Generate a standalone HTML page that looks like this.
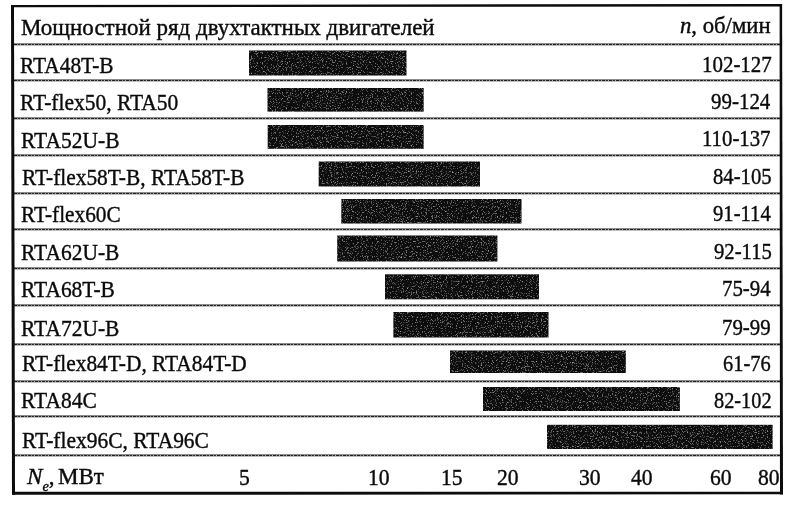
<!DOCTYPE html><html><head><meta charset="utf-8"><style>
html,body{margin:0;padding:0;background:#fff;}
body{width:790px;height:506px;position:relative;overflow:hidden;font-family:"Liberation Serif",serif;color:#0a0a0a;}
.b{position:absolute;background:#111;}
.l{position:absolute;height:1px;background:repeating-linear-gradient(90deg,#1e1e1e 0 3px,#8a8a8a 3px 4px,#2a2a2a 4px 6px,#aaa 6px 7px);box-shadow:0 -1px 0 rgba(0,0,0,0.45),0 1px 0 rgba(0,0,0,0.25);}
.bar{position:absolute;background:#1e1e1e;}
.t{position:absolute;white-space:nowrap;line-height:1;transform-origin:0 0;-webkit-text-stroke:0.4px #0a0a0a;}
.sub{font-size:15px;position:relative;top:7px;margin-left:0px;}
</style></head><body>
<svg width="790" height="506" style="position:absolute;left:0;top:0" viewBox="0 0 790 506"><g fill="#0c0c0c"><polygon points="11,5 782,4 782,6.6 11,7.2"/><polygon points="779.6,4 782.1,4 783,494.4 780,494.4"/><polygon points="12,491.8 783,491.8 783,494.3 12,494.8"/><polygon points="11,5 14,5 15,494.8 12,494.8"/></g></svg>
<div class="l" style="left:14px;top:43.9px;width:766px"></div>
<div class="l" style="left:14px;top:80.3px;width:766px"></div>
<div class="l" style="left:14px;top:117.7px;width:766px"></div>
<div class="l" style="left:14px;top:154.9px;width:766px"></div>
<div class="l" style="left:14px;top:192.7px;width:766px"></div>
<div class="l" style="left:14px;top:229.4px;width:766px"></div>
<div class="l" style="left:14px;top:267.5px;width:766px"></div>
<div class="l" style="left:14px;top:305.4px;width:766px"></div>
<div class="l" style="left:14px;top:343.7px;width:766px"></div>
<div class="l" style="left:14px;top:380.8px;width:766px"></div>
<div class="l" style="left:14px;top:416.3px;width:766px"></div>
<div class="l" style="left:14px;top:455.0px;width:766px"></div>
<svg width="790" height="506" style="position:absolute;left:0;top:0" viewBox="0 0 790 506"><defs><filter id="sp" x="0" y="0" width="100%" height="100%"><feTurbulence type="fractalNoise" baseFrequency="0.8" numOctaves="3" seed="7" result="n"/><feColorMatrix in="n" type="matrix" values="0 0 0 0 0.6  0 0 0 0 0.6  0 0 0 0 0.6  1.9 0 0 0 -1.1" result="dots"/><feComposite in="dots" in2="SourceGraphic" operator="in" result="d2"/><feMerge><feMergeNode in="SourceGraphic"/><feMergeNode in="d2"/></feMerge></filter></defs><g fill="#0a0a0a" filter="url(#sp)"><rect x="249.0" y="50.5" width="157.5" height="25.0"/><rect x="267.5" y="88.0" width="156.2" height="23.6"/><rect x="267.7" y="125.0" width="156.0" height="23.8"/><rect x="318.7" y="161.5" width="161.3" height="25.0"/><rect x="341.3" y="199.0" width="180.2" height="24.5"/><rect x="337.2" y="235.5" width="160.2" height="26.0"/><rect x="385.0" y="274.3" width="154.0" height="25.0"/><rect x="393.4" y="312.0" width="155.1" height="25.5"/><rect x="450.0" y="350.5" width="175.8" height="22.5"/><rect x="483.0" y="387.0" width="196.9" height="24.0"/><rect x="547.0" y="424.8" width="225.6" height="24.2"/></g></svg>
<div class="t" style="left:21.20px;top:15.94px;font-size:23px;transform:scaleX(0.9992)">Мощностной ряд двухтактных двигателей</div>
<div class="t" style="left:680.20px;top:14.24px;font-size:23px;transform:scaleX(0.9873)"><i>n</i>, об/мин</div>
<div class="t" style="left:19.70px;top:52.60px;font-size:24px;transform:scaleX(0.8899)">RTA48T-B</div>
<div class="t" style="left:702.36px;top:51.50px;font-size:24px;transform:scaleX(0.8721)">102-127</div>
<div class="t" style="left:19.70px;top:89.50px;font-size:24px;transform:scaleX(0.8944)">RT-flex50, RTA50</div>
<div class="t" style="left:710.92px;top:89.30px;font-size:24px;transform:scaleX(0.8728)">99-124</div>
<div class="t" style="left:20.70px;top:127.50px;font-size:24px;transform:scaleX(0.8967)">RTA52U-B</div>
<div class="t" style="left:701.86px;top:125.60px;font-size:24px;transform:scaleX(0.8659)">110-137</div>
<div class="t" style="left:21.70px;top:164.90px;font-size:24px;transform:scaleX(0.8904)">RT-flex58T-B, RTA58T-B</div>
<div class="t" style="left:712.96px;top:163.90px;font-size:24px;transform:scaleX(0.8610)">84-105</div>
<div class="t" style="left:20.70px;top:201.50px;font-size:24px;transform:scaleX(0.8869)">RT-flex60C</div>
<div class="t" style="left:712.96px;top:200.60px;font-size:24px;transform:scaleX(0.8607)">91-114</div>
<div class="t" style="left:20.90px;top:239.50px;font-size:24px;transform:scaleX(0.8948)">RTA62U-B</div>
<div class="t" style="left:713.68px;top:238.90px;font-size:24px;transform:scaleX(0.8614)">92-115</div>
<div class="t" style="left:20.70px;top:276.70px;font-size:24px;transform:scaleX(0.8937)">RTA68T-B</div>
<div class="t" style="left:722.44px;top:275.90px;font-size:24px;transform:scaleX(0.8688)">75-94</div>
<div class="t" style="left:21.10px;top:315.70px;font-size:24px;transform:scaleX(0.8949)">RTA72U-B</div>
<div class="t" style="left:722.44px;top:315.40px;font-size:24px;transform:scaleX(0.8688)">79-99</div>
<div class="t" style="left:21.70px;top:351.40px;font-size:24px;transform:scaleX(0.8902)">RT-flex84T-D, RTA84T-D</div>
<div class="t" style="left:723.44px;top:350.90px;font-size:24px;transform:scaleX(0.8511)">61-76</div>
<div class="t" style="left:20.70px;top:388.20px;font-size:24px;transform:scaleX(0.8949)">RTA84C</div>
<div class="t" style="left:713.68px;top:387.50px;font-size:24px;transform:scaleX(0.8465)">82-102</div>
<div class="t" style="left:21.70px;top:427.60px;font-size:24px;transform:scaleX(0.8944)">RT-flex96C, RTA96C</div>
<div class="t" style="left:26.72px;top:463.90px;font-size:24px;transform:scaleX(0.9633)"><i>N</i><i class="sub">e</i>,</div>
<div class="t" style="left:57.74px;top:463.90px;font-size:24px;transform:scaleX(0.9603)">МВт</div>
<div class="t" style="left:238.56px;top:464.90px;font-size:24px;transform:scaleX(0.9000)">5</div>
<div class="t" style="left:367.82px;top:464.90px;font-size:24px;transform:scaleX(0.9000)">10</div>
<div class="t" style="left:440.80px;top:464.90px;font-size:24px;transform:scaleX(0.9000)">15</div>
<div class="t" style="left:497.10px;top:464.90px;font-size:24px;transform:scaleX(0.9000)">20</div>
<div class="t" style="left:579.06px;top:464.90px;font-size:24px;transform:scaleX(0.9000)">30</div>
<div class="t" style="left:631.30px;top:464.90px;font-size:24px;transform:scaleX(0.9000)">40</div>
<div class="t" style="left:709.74px;top:464.90px;font-size:24px;transform:scaleX(0.9000)">60</div>
<div class="t" style="left:758.02px;top:464.90px;font-size:24px;transform:scaleX(0.9000)">80</div>
</body></html>
